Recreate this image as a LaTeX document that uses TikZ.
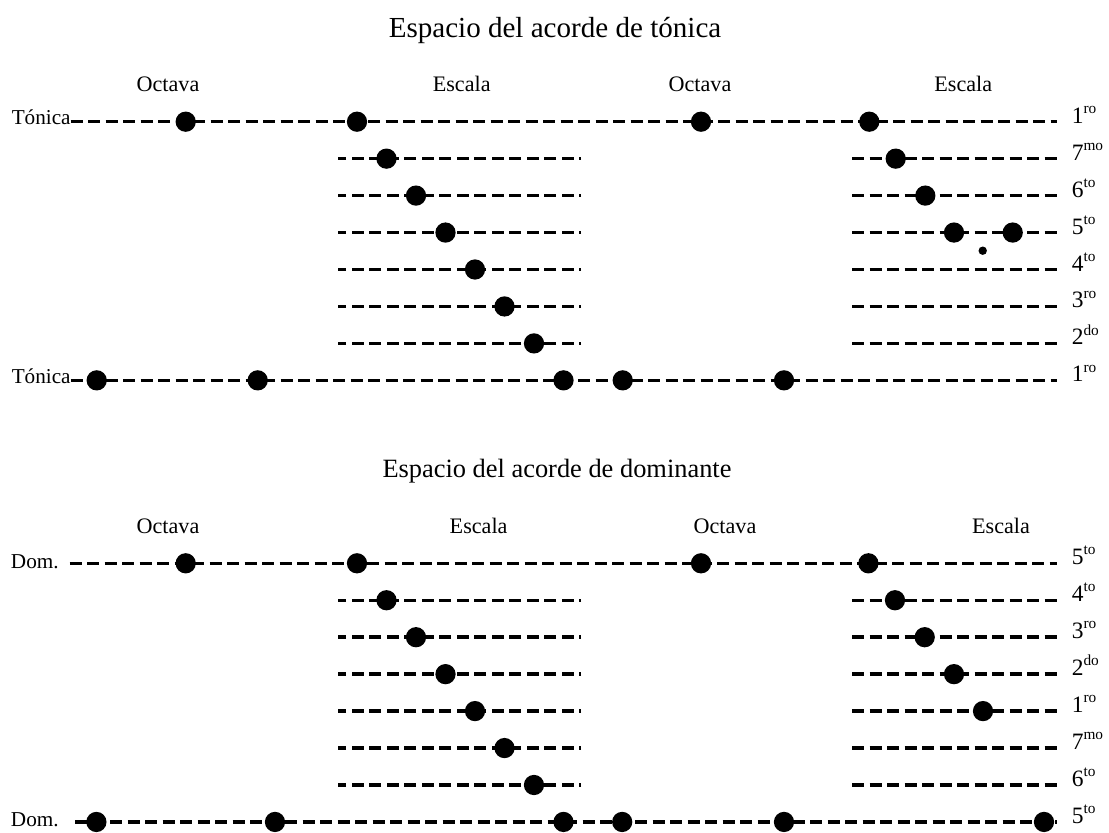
\documentclass[tikz,border=0pt]{standalone}
\usepackage{fontspec}
\setmainfont{Liberation Serif}
\newcommand\ordn[2]{#1\raisebox{0.42em}{\fontsize{11.5}{13}\selectfont #2}}
\begin{document}
\begin{tikzpicture}[x=0.75pt,y=-0.75pt]
\tikzset{
 dl/.style={line width=2.6pt, dash pattern=on 9pt off 4.125pt},
 dlend/.style={dl, dash phase=7.6pt},
 dotn/.style={circle, fill=black, inner sep=0pt, minimum size=15.2pt},
 smalldot/.style={circle, fill=black, inner sep=0pt, minimum size=6.3pt},
 ttl/.style={font=\fontsize{19.8}{24}\selectfont, anchor=base, inner sep=0pt},
 hdr/.style={font=\fontsize{16.6}{19}\selectfont, anchor=base, inner sep=0pt},
 lbl/.style={font=\fontsize{15.9}{19}\selectfont, anchor=base west, inner sep=0pt},
 ord/.style={font=\fontsize{17.6}{20}\selectfont, anchor=base west, inner sep=0pt},
}
\useasboundingbox (0,0) rectangle (1109,832);

% ================= Tonic section =================
\node[ttl, font=\fontsize{21.8}{26}\selectfont] (title1) at (555,37) {Espacio del acorde de tónica};
\node[hdr] (t-oct1) at (168,91.5) {Octava};
\node[hdr] (t-esc1) at (461.7,91.5) {Escala};
\node[hdr] (t-oct2) at (700,91.5) {Octava};
\node[hdr] (t-esc2) at (963.3,91.5) {Escala};

\node[lbl] (t-ton0) at (11.5,124.5) {Tónica};
\node[lbl] (t-ton7) at (11.5,383.2) {Tónica};

% long rows
\draw[dl] (70.7,121.7) -- (1057,121.7);
\draw[dl] (70.7,380.35) -- (1057,380.35);
% short rows
\foreach \k in {1,...,6}{
  \pgfmathsetmacro\yy{121.7+36.95*\k}
  \draw[dlend] (581,\yy) -- (338,\yy);
  \draw[dl] (852,\yy) -- (1057,\yy);
}
% scale dots (left)
\foreach \k in {0,...,7}{
  \node[dotn] (t-s\k) at ({357+29.5*\k},{121.7+36.95*\k}) {};
}
% right scale dots
\node[dotn] (t-r0) at (869.3,121.7) {};
\node[dotn] (t-r1) at (895.7,158.65) {};
\node[dotn] (t-r2) at (925.3,195.6) {};
\node[dotn] (t-r3) at (954,232.55) {};
\node[dotn] (t-r3b) at (1012.7,232.55) {};
\node[smalldot] (t-rs) at (982.7,250.7) {};
% octave dots
\node[dotn] (t-o1) at (185.7,121.7) {};
\node[dotn] (t-o2) at (701,121.7) {};
\node[dotn] (t-b1) at (96.7,380.35) {};
\node[dotn] (t-b2) at (257.7,380.35) {};
\node[dotn] (t-b3) at (622.7,380.35) {};
\node[dotn] (t-b4) at (784,380.35) {};
% ordinal labels
\foreach \k/\n/\s in {0/1/ro,1/7/mo,2/6/to,3/5/to,4/4/to,5/3/ro,6/2/do,7/1/ro}{
  \node[ord] (t-l\k) at (1071.5,{123.2+36.95*\k}) {\ordn{\n}{\s}};
}

% ================= Dominant section =================
\begin{scope}[shift={(0,441.6)}]
\node[ttl] (title2) at (557,36) {Espacio del acorde de dominante};
\node[hdr] (d-oct1) at (168,91.5) {Octava};
\node[hdr] (d-esc1) at (478.6,91.5) {Escala};
\node[hdr] (d-oct2) at (725,91.5) {Octava};
\node[hdr] (d-esc2) at (1001,91.5) {Escala};

\node[lbl] (d-dom0) at (10.7,126.7) {Dom.};
\node[lbl] (d-dom7) at (10.7,385.3) {Dom.};

\draw[dl] (69.6,121.7) -- (1057,121.7);
\draw[dl] (75,380.35) -- (1056.5,380.35);
\foreach \k in {1,...,6}{
  \pgfmathsetmacro\yy{121.7+36.95*\k}
  \draw[dlend] (581,\yy) -- (338,\yy);
  \draw[dl] (852,\yy) -- (1057,\yy);
}
\foreach \k in {0,...,7}{
  \node[dotn] (d-s\k) at ({357+29.5*\k},{121.7+36.95*\k}) {};
}
\node[dotn] (d-r0) at (868.4,121.7) {};
\node[dotn] (d-r1) at (895,158.65) {};
\node[dotn] (d-r2) at (924.7,195.6) {};
\node[dotn] (d-r3) at (954,232.55) {};
\node[dotn] (d-r4) at (983,269.5) {};
\node[dotn] (d-o1) at (185.7,121.7) {};
\node[dotn] (d-o2) at (701,121.7) {};
\node[dotn] (d-b1) at (96.4,380.35) {};
\node[dotn] (d-b2) at (275,380.35) {};
\node[dotn] (d-b3) at (622.2,380.35) {};
\node[dotn] (d-b4) at (784,380.35) {};
\node[dotn] (d-b5) at (1044,380.35) {};
\foreach \k/\n/\s in {0/5/to,1/4/to,2/3/ro,3/2/do,4/1/ro,5/7/mo,6/6/to,7/5/to}{
  \node[ord] (d-l\k) at (1071.5,{123.2+36.95*\k}) {\ordn{\n}{\s}};
}
\end{scope}
\end{tikzpicture}
\end{document}
